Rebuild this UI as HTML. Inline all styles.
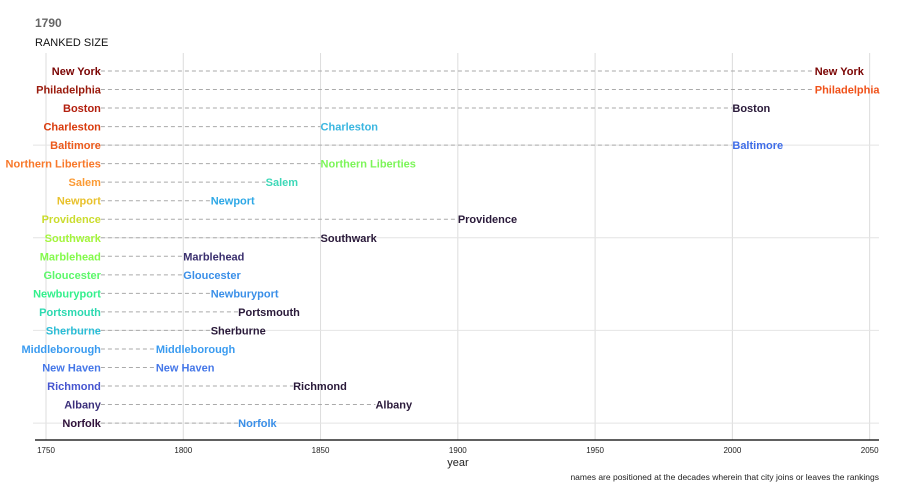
<!DOCTYPE html>
<html><head><meta charset="utf-8"><style>
body{margin:0;background:#fff;font-family:"Liberation Sans",sans-serif}
svg{display:block}
</style></head><body>
<svg width="900" height="500" xmlns="http://www.w3.org/2000/svg" font-family="Liberation Sans, sans-serif">
<text x="35" y="27" font-size="12" font-weight="bold" fill="#666">1790</text>
<text x="35" y="46" font-size="11" fill="#111">RANKED SIZE</text>
<g id="grid"></g>
<g id="marks"></g>
<g id="axis"></g>
<text x="458" y="466" font-size="11" text-anchor="middle" fill="#222">year</text>
<text x="879" y="480" font-size="8.5" text-anchor="end" fill="#222">names are positioned at the decades wherein that city joins or leaves the rankings</text>
</svg>
<script>
const cities=["New York","Philadelphia","Boston","Charleston","Baltimore","Northern Liberties","Salem","Newport","Providence","Southwark","Marblehead","Gloucester","Newburyport","Portsmouth","Sherburne","Middleborough","New Haven","Richmond","Albany","Norfolk"];
const startYear=[1770,1770,1770,1770,1770,1770,1770,1770,1770,1770,1770,1770,1770,1770,1770,1770,1770,1770,1770,1770];
const endYear=[2030,2030,2000,1850,2000,1850,1830,1810,1900,1850,1800,1800,1810,1820,1810,1790,1790,1840,1870,1820];
const leftColors=["#7a0403","#9a1a0c","#b3200f","#d93b0d","#ec5a1c","#f8782a","#fb9a34","#e8c12c","#cbdc2e","#a4f53c","#83fa4b","#5cf86a","#34f08c","#2cd9b0","#2bbdd6","#3a9bf0","#4577e8","#4655d0","#3b2f7a","#30123b"];
const rightColors=["#7a0403","#f0521a","#2a1a3a","#3ab6e0","#3f6de8","#7cf559","#3ed8b8","#2ea8e6","#2a1a3a","#2a1a3a","#3a2f6e","#3a8fe8","#3a8fe8","#2a1a3a","#2a1a3a","#3a9bf0","#4577e8","#2a1a3a","#2a1a3a","#3a8fe8"];
const xTicks=[1750,1800,1850,1900,1950,2000,2050];
const gridRanks=[5,10,15,20];
const NS="http://www.w3.org/2000/svg";
const x=y=>46+(y-1750)*2.7455;
const yr=r=>71+(r-1)*18.53;
function mk(tag,attrs,parent,text){const e=document.createElementNS(NS,tag);for(const k in attrs)e.setAttribute(k,attrs[k]);if(text!=null)e.textContent=text;parent.appendChild(e);return e;}
const grid=document.getElementById('grid'),marks=document.getElementById('marks'),axis=document.getElementById('axis');
xTicks.forEach(t=>{const l=mk('line',{x1:x(t),x2:x(t),y1:53,y2:440,stroke:'#dcdcdc','stroke-width':1},grid);


const tx=mk('text',{x:x(t),y:453,'font-size':8,'text-anchor':'middle',fill:'#222'},axis,String(t));

});
gridRanks.forEach(r=>{const l=mk('line',{x1:33,x2:879,y1:yr(r),y2:yr(r),stroke:'#e4e4e4','stroke-width':1},grid);

});
const ax=mk('line',{x1:35,x2:879,y1:440,y2:440,stroke:'#000','stroke-width':1.2},axis);


cities.forEach((c,i)=>{const y=yr(i+1);
const l=mk('line',{x1:x(startYear[i]),x2:x(endYear[i]),y1:y,y2:y,stroke:'#aaa','stroke-width':1,'stroke-dasharray':'4,3'},marks);


const a=mk('text',{x:x(startYear[i]),y:y+4,'font-size':11,'font-weight':'bold','text-anchor':'end',fill:leftColors[i]},marks,c);


const b=mk('text',{x:x(endYear[i]),y:y+4,'font-size':11,'font-weight':'bold',fill:rightColors[i]},marks,c);

});
</script>
</body></html>
